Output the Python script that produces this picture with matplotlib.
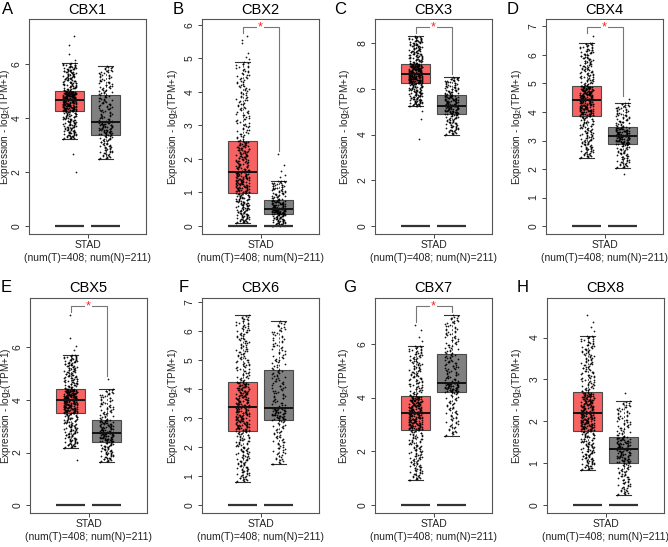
import numpy as np
import matplotlib
matplotlib.use("Agg")
import matplotlib.pyplot as plt

plt.rcParams['font.family'] = ['Liberation Sans', 'DejaVu Sans']
plt.rcParams['mathtext.fontset'] = 'custom'
plt.rcParams['mathtext.rm'] = 'Liberation Sans'
plt.rcParams['mathtext.it'] = 'Liberation Sans:italic'

# values
genes = ['CBX1', 'CBX2', 'CBX3', 'CBX4', 'CBX5', 'CBX6', 'CBX7', 'CBX8']
letters = ['A', 'B', 'C', 'D', 'E', 'F', 'G', 'H']
n_tumor = 408
n_normal = 211
cancer = 'STAD'

# whisker low, Q1, median, Q3, whisker high
tumor_stats = [
    [3.23, 4.25, 4.67, 4.98, 6.02],
    [0.10, 0.97, 1.60, 2.54, 4.89],
    [5.23, 6.25, 6.64, 7.09, 8.29],
    [2.40, 3.86, 4.43, 4.92, 6.43],
    [2.18, 3.49, 3.99, 4.42, 5.72],
    [0.81, 2.54, 3.39, 4.26, 6.54],
    [0.92, 2.80, 3.41, 4.06, 5.93],
    [0.84, 1.77, 2.19, 2.69, 4.05],
]
normal_stats = [
    [2.48, 3.38, 3.84, 4.83, 5.91],
    [0.00, 0.35, 0.50, 0.77, 1.35],
    [4.00, 4.88, 5.27, 5.72, 6.50],
    [2.04, 2.86, 3.16, 3.47, 4.32],
    [1.65, 2.41, 2.75, 3.24, 4.42],
    [1.40, 2.93, 3.36, 4.65, 6.34],
    [2.58, 4.20, 4.56, 5.63, 7.06],
    [0.24, 1.00, 1.33, 1.63, 2.48],
]
tumor_out = [
    [7.01, 6.70, 6.37, 6.15, 2.66, 2.00],
    [5.65, 5.55, 5.45, 5.15, 5.05, 4.98],
    [4.67, 3.80, 5.05],
    [6.65],
    [7.22, 6.35, 6.04, 5.90, 1.73],
    [],
    [6.69, 6.50, 6.25, 6.10],
    [4.53, 4.38, 4.26, 4.15],
]
normal_out = [
    [],
    [2.14, 1.82, 1.65, 1.52, 1.45],
    [],
    [4.45, 1.83],
    [4.80],
    [],
    [],
    [2.67],
]
significant = [False, True, True, True, True, False, True, False]
y_ticks = [
    [0, 2, 4, 6],
    [0, 1, 2, 3, 4, 5, 6],
    [0, 2, 4, 6, 8],
    [0, 1, 2, 3, 4, 5, 6, 7],
    [0, 2, 4, 6],
    [0, 1, 2, 3, 4, 5, 6, 7],
    [0, 2, 4, 6],
    [0, 1, 2, 3, 4],
]

red = '#F76262'
grey = '#808080'
W, H = 668, 547

fig = plt.figure(figsize=(W / 100, H / 100), dpi=100)

lefts = [29, 202, 375, 546, 30, 202, 375, 547]
row_tops = [19, 298]
ax_w, ax_h = 117, 215
title_y = [10, 288]
letter_x = [8, 178, 340, 513, 6, 184, 350, 523]
ylabel_off = [16.5, 22.5, 22.5, 22.5, 17, 22.5, 24, 23.5]


def spread_values(stats, outs, n):
    # stack of n points following the read quartiles, outliers added as read
    core = n - len(outs)
    p = np.linspace(0, 1, core)
    vals = np.interp(p, [0, 0.25, 0.5, 0.75, 1], stats)
    return np.concatenate([vals, outs])


for i in range(8):
    row = i // 4
    top = row_tops[row]
    ax = fig.add_axes([lefts[i] / W, 1 - (top + ax_h) / H, ax_w / W, ax_h / H])

    all_max = max(tumor_stats[i][4], normal_stats[i][4],
                  max(tumor_out[i] + [0]), max(normal_out[i] + [0]))
    ymax = all_max * 1.05

    stats = []
    for s in (tumor_stats[i], normal_stats[i]):
        stats.append(dict(whislo=s[0], q1=s[1], med=s[2], q3=s[3], whishi=s[4], fliers=[]))
    bp = ax.bxp(stats, positions=[1, 2], widths=0.8, patch_artist=True,
                showfliers=False, capwidths=0.42,
                boxprops=dict(edgecolor='#4a4a4a', linewidth=0.8),
                whiskerprops=dict(color='#555555', linestyle=(0, (2, 2)), linewidth=0.7),
                capprops=dict(color='#333333', linewidth=0.8),
                medianprops=dict(color='#111111', linewidth=1.4, zorder=4))
    bp['boxes'][0].set_facecolor(red)
    bp['boxes'][1].set_facecolor(grey)

    # jittered points
    for pos, s, outs, n in ((1, tumor_stats[i], tumor_out[i], n_tumor),
                            (2, normal_stats[i], normal_out[i], n_normal)):
        vals = spread_values(s, outs, n)
        k = np.arange(len(vals))
        jit = ((k * k * 0.7071067812 + k * 0.3819660113) % 1 - 0.5) * 0.38
        ax.scatter(pos + jit, vals, s=1.6, color='black', linewidths=0,
                   alpha=0.9, zorder=3)

    # flat bars at zero
    ax.hlines([0, 0], [0.6, 1.6], [1.4, 2.4], colors='#333333', linewidth=1.6, zorder=3)

    if significant[i]:
        tmax = max([tumor_stats[i][4]] + tumor_out[i])
        nmax = max([normal_stats[i][4]] + normal_out[i])
        gap = 0.015 * ymax
        ax.plot([1, 1, 2, 2], [tmax + gap, ymax, ymax, nmax + gap],
                color='#777777', linewidth=0.8, zorder=2)
        ax.text(1.5, ymax, '*', color='#FF2020', fontsize=9, ha='center',
                va='center', zorder=5,
                bbox=dict(boxstyle='square,pad=0.05', facecolor='white', edgecolor='none'))

    ax.set_xlim(-0.125, 3.125)
    ax.set_ylim(-0.04 * ymax, 1.04 * ymax)
    ax.set_xticks([1.5])
    ax.set_xticklabels([])
    ax.set_yticks(y_ticks[i])
    ax.set_yticklabels([str(t) for t in y_ticks[i]], rotation=90, va='center')
    ax.tick_params(axis='both', length=3, width=0.7, color='#444444',
                   labelsize=7.5, pad=2.5, labelcolor='#222222')
    for sp in ax.spines.values():
        sp.set_color('#555555')
        sp.set_linewidth(0.8)

    ax.set_ylabel('Expression - log$_2$(TPM+1)', fontsize=7.2, color='#222222')
    ax.yaxis.set_label_coords(-ylabel_off[i] / ax_w, 0.5)
    ax.text(0.5, -11 / ax_h, cancer, transform=ax.transAxes, ha='center',
            va='center', fontsize=7.5, color='#222222')
    ax.text(0.5, -24 / ax_h, '(num(T)=%d; num(N)=%d)' % (n_tumor, n_normal),
            transform=ax.transAxes, ha='center', va='center', fontsize=7.5,
            color='#222222')

    cx = (lefts[i] + ax_w / 2) / W
    fig.text(cx, 1 - title_y[row] / H, genes[i], ha='center', va='center',
             fontsize=10.5)
    fig.text(letter_x[i] / W, 1 - (title_y[row] - 1) / H, letters[i],
             ha='center', va='center', fontsize=12)

fig.savefig('out.png', dpi=100, facecolor='white')
